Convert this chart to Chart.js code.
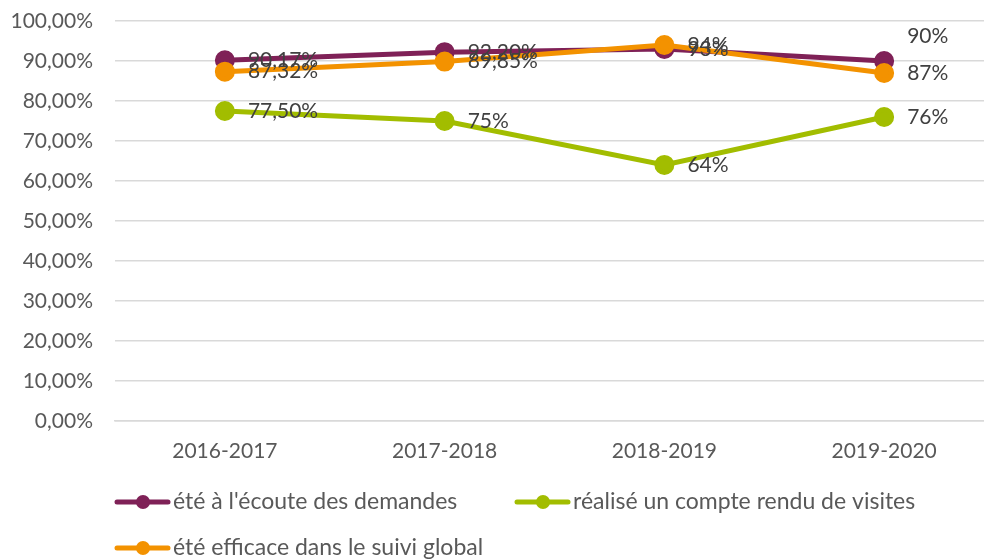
<!DOCTYPE html>
<html>
<head>
<meta charset="utf-8">
<script src="https://cdn.jsdelivr.net/npm/chart.js@4"></script>
<style>
  html, body { margin: 0; padding: 0; background: #fff; overflow: hidden; }
  canvas { display: block; }
</style>
</head>
<body>
<canvas id="chart" width="1000" height="560"></canvas>
<script>
// Categories and series (in %)
const years = ['2016-2017', '2017-2018', '2018-2019', '2019-2020'];
const ecoute = [90.17, 92.20, 93, 90];
const compteRendu = [77.50, 75, 64, 76];
const efficace = [87.32, 89.85, 94, 87];

const seriesNames = [
    "été à l'écoute des demandes",
    "réalisé un compte rendu de visites",
    "été efficace dans le suivi global"
];

const colors = {
    purple: '#7f2157',
    green: '#a2bd00',
    orange: '#f39200'
};

const fontFamily = "Lato, 'Open Sans', sans-serif";

// "90,17%" or "93%"
function fmtPct(v) {
    if (Number.isInteger(v)) return v + '%';
    return v.toFixed(2).replace('.', ',') + '%';
}

// Value labels right of each point
const valueLabels = {
    id: 'valueLabels',
    afterDatasetsDraw(chart) {
        const ctx = chart.ctx;
        ctx.save();
        ctx.font = '21px ' + fontFamily;
        ctx.fillStyle = '#404040';
        ctx.textAlign = 'left';
        ctx.textBaseline = 'middle';
        chart.data.datasets.forEach((ds, i) => {
            const meta = chart.getDatasetMeta(i);
            meta.data.forEach((pt, j) => {
                let dy = 0;
                // last purple label sits above its point
                if (i === 0 && j === ds.data.length - 1) dy = -25;
                ctx.fillText(fmtPct(ds.data[j]), pt.x + 23, pt.y + dy);
            });
        });
        ctx.restore();
    }
};

// Legend: line with a dot, laid out in two rows
const lineLegend = {
    id: 'lineLegend',
    afterDraw(chart) {
        const ctx = chart.ctx;
        const spots = [[115, 502], [515, 502], [115, 548]];
        ctx.save();
        chart.data.datasets.forEach((ds, i) => {
            const [x, y] = spots[i];
            ctx.strokeStyle = ds.borderColor;
            ctx.lineWidth = 5;
            ctx.lineCap = 'round';
            ctx.beginPath();
            ctx.moveTo(x + 2, y);
            ctx.lineTo(x + 53, y);
            ctx.stroke();
            ctx.fillStyle = ds.borderColor;
            ctx.beginPath();
            ctx.arc(x + 28, y, 7, 0, Math.PI * 2);
            ctx.fill();
            ctx.font = '23px ' + fontFamily;
            ctx.fillStyle = '#595959';
            ctx.textAlign = 'left';
            ctx.textBaseline = 'middle';
            ctx.fillText(ds.label, x + 58, y);
        });
        ctx.restore();
    }
};

function makeSet(label, data, color, order) {
    return {
        label: label,
        data: data,
        borderColor: color,
        backgroundColor: color,
        pointBackgroundColor: color,
        pointBorderColor: color,
        borderWidth: 5,
        pointRadius: 7.5,
        pointHoverRadius: 7.5,
        tension: 0,
        order: order
    };
}

new Chart(document.getElementById('chart'), {
    type: 'line',
    data: {
        labels: years,
        datasets: [
            makeSet(seriesNames[0], ecoute, colors.purple, 1),
            makeSet(seriesNames[1], compteRendu, colors.green, 2),
            makeSet(seriesNames[2], efficace, colors.orange, 0)
        ]
    },
    options: {
        responsive: false,
        animation: false,
        layout: { autoPadding: false, padding: { top: 21, right: 6, bottom: 78, left: 0 } },
        plugins: {
            legend: { display: false },
            tooltip: { enabled: false }
        },
        scales: {
            x: {
                offset: true,
                grid: { display: false, drawTicks: false },
                border: { display: true, color: '#d9d9d9', width: 1.5 },
                ticks: {
                    padding: 18,
                    color: '#595959',
                    font: { family: fontFamily, size: 21 }
                }
            },
            y: {
                min: 0,
                max: 100,
                afterFit(scale) { scale.width = 115; },
                grid: {
                    color: '#d9d9d9',
                    lineWidth: 1.5,
                    drawTicks: true,
                    tickLength: 22,
                    tickColor: 'rgba(0,0,0,0)'
                },
                border: { display: false },
                ticks: {
                    stepSize: 10,
                    padding: 0,
                    color: '#595959',
                    font: { family: fontFamily, size: 21 },
                    callback: v => v.toFixed(2).replace('.', ',') + '%'
                }
            }
        }
    },
    plugins: [valueLabels, lineLegend]
});
</script>
</body>
</html>
